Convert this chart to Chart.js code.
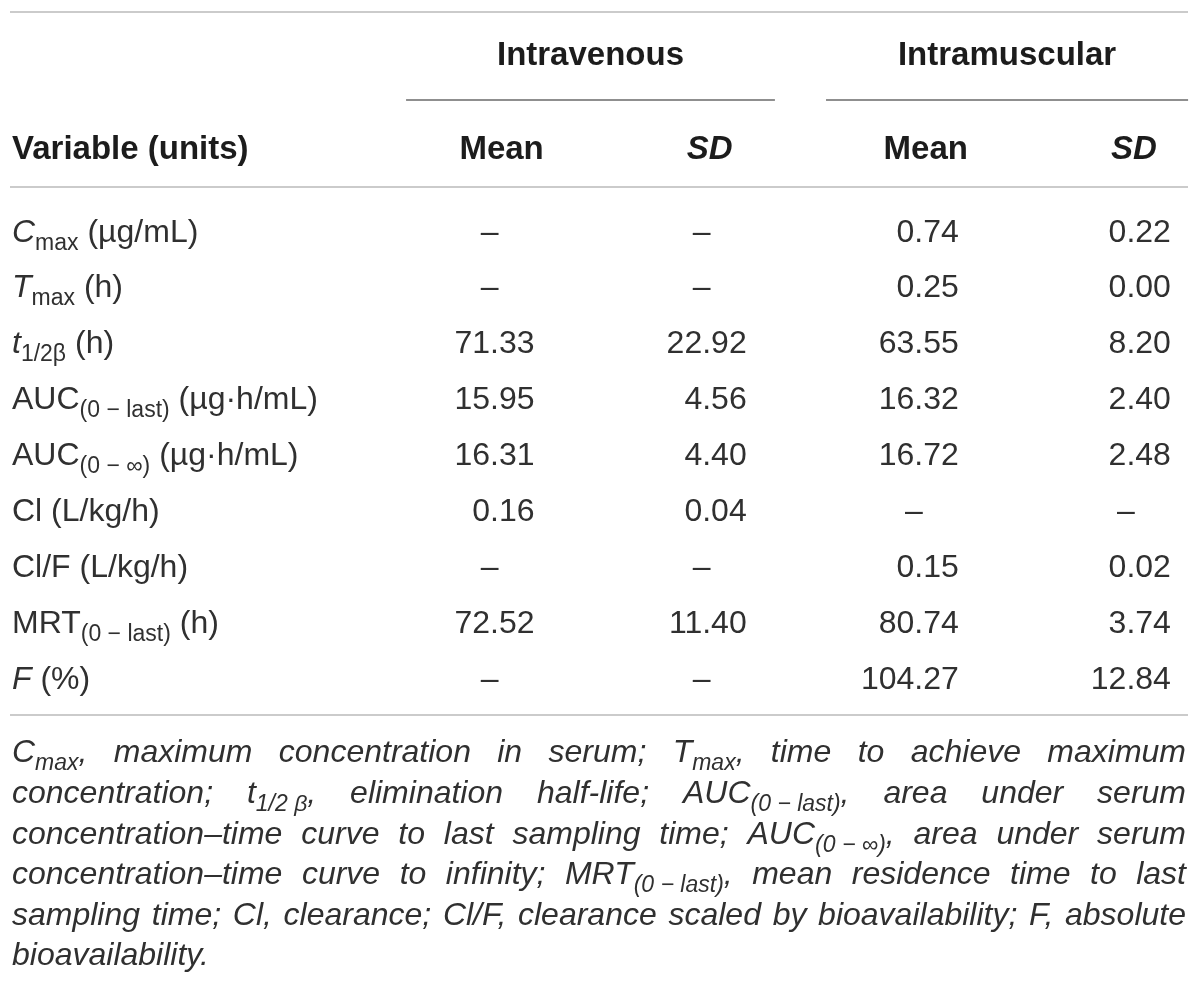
<!DOCTYPE html>
<html>
<head>
<meta charset="utf-8">
<title>Pharmacokinetic parameters</title>
<script src="https://cdn.jsdelivr.net/npm/chart.js@4.4.1/dist/chart.umd.min.js"></script>
<style>
html, body { margin: 0; padding: 0; background: #fff; }
#wrap { width: 1200px; height: 991px; position: relative; }
</style>
</head>
<body>
<div id="wrap"><canvas id="pkTable"></canvas></div>
<script>
var FONT = '"Liberation Sans", Arial, Helvetica, sans-serif';

// rows of the table ( *..* = italic, _{..} = subscript )
var variables = [
    '*C*_{max} (\u00b5g/mL)',
    '*T*_{max} (h)',
    '*t*_{1/2\u03b2} (h)',
    'AUC_{(0 \u2212 last)} (\u00b5g\u00b7h/mL)',
    'AUC_{(0 \u2212 \u221e)} (\u00b5g\u00b7h/mL)',
    'Cl (L/kg/h)',
    'Cl/F (L/kg/h)',
    'MRT_{(0 \u2212 last)} (h)',
    '*F* (%)'
];
var groups = ['Intravenous', 'Intramuscular'];
var columns = ['Mean', 'SD', 'Mean', 'SD'];

// null = not applicable, shown as a dash
var ivMean = [null, null, 71.33, 15.95, 16.31, 0.16, null, 72.52, null];
var ivSD   = [null, null, 22.92, 4.56, 4.40, 0.04, null, 11.40, null];
var imMean = [0.74, 0.25, 63.55, 16.32, 16.72, null, 0.15, 80.74, 104.27];
var imSD   = [0.22, 0.00, 8.20, 2.40, 2.48, null, 0.02, 3.74, 12.84];

var footnote = [
    'C_{max}, maximum concentration in serum; T_{max}, time to achieve maximum',
    'concentration; t_{1/2\u00a0\u03b2}, elimination half-life; AUC_{(0\u00a0\u2212\u00a0last)}, area under serum',
    'concentration\u2013time curve to last sampling time; AUC_{(0\u00a0\u2212\u00a0\u221e)}, area under serum',
    'concentration\u2013time curve to infinity; MRT_{(0\u00a0\u2212\u00a0last)}, mean residence time to last',
    'sampling time; Cl, clearance; Cl/F, clearance scaled by bioavailability; F, absolute',
    'bioavailability.'
];

var series = [ivMean, ivSD, imMean, imSD];

// little rich text helpers
function parseRich(s, italic) {
    var runs = [], it = !!italic, sub = false, buf = '';
    function push() { if (buf) { runs.push({ t: buf, i: it, sub: sub }); buf = ''; } }
    for (var k = 0; k < s.length; k++) {
        var c = s[k];
        if (c === '*') { push(); it = !it; }
        else if (c === '_' && s[k + 1] === '{') { push(); sub = true; k++; }
        else if (c === '}' && sub) { push(); sub = false; }
        else buf += c;
    }
    push();
    return runs;
}
function runFont(r, o) {
    return (r.i ? 'italic ' : '') + (o.weight || 'normal') + ' ' + (r.sub ? o.subSize : o.size) + 'px ' + FONT;
}
function runsWidth(ctx, runs, o) {
    var w = 0;
    runs.forEach(function (r) { ctx.font = runFont(r, o); w += ctx.measureText(r.t).width; });
    return w;
}
function drawRuns(ctx, runs, x, yc, o) {
    var w = runsWidth(ctx, runs, o);
    if (o.align === 'center') x -= w / 2;
    else if (o.align === 'right') x -= w;
    var base = yc + o.size * 0.36;
    ctx.textAlign = 'left';
    ctx.textBaseline = 'alphabetic';
    ctx.fillStyle = o.color;
    runs.forEach(function (r) {
        ctx.font = runFont(r, o);
        ctx.fillText(r.t, x, base + (r.sub ? o.subDy : 0));
        x += ctx.measureText(r.t).width;
    });
    return w;
}
function hline(ctx, x1, x2, y, color) {
    ctx.fillStyle = color;
    ctx.fillRect(x1, Math.round(y) - 1, x2 - x1, 2);
}

var LEFT = 11, RIGHT = 1188;
var cellFont = { size: 32, subSize: 23, subDy: 8, color: '#303030' };
var headFont = { size: 33, subSize: 23, subDy: 8, weight: 'bold', color: '#1c1c1c' };
var noteFont = { size: 32, subSize: 23, subDy: 8, color: '#303030' };

var tablePlugin = {
    id: 'tableText',
    afterDatasetsDraw: function (chart) {
        var ctx = chart.ctx, xs = chart.scales.x, ys = chart.scales.y;
        ctx.save();

        // horizontal rules
        hline(ctx, LEFT - 1, RIGHT, ys.getPixelForValue(-3.902), '#cbcbcb');
        hline(ctx, LEFT - 1, RIGHT, ys.getPixelForValue(-0.770), '#cbcbcb');
        hline(ctx, LEFT - 1, RIGHT, ys.getPixelForValue(8.680), '#cbcbcb');

        // group headers with their underlines
        var spans = [[-0.606, 1.133], [1.374, 3.081]];
        groups.forEach(function (g, k) {
            var a = xs.getPixelForValue(spans[k][0]), b = xs.getPixelForValue(spans[k][1]);
            hline(ctx, a, b, ys.getPixelForValue(-2.327), '#8f8f8f');
            drawRuns(ctx, [{ t: g }], (a + b) / 2, ys.getPixelForValue(-3.168), Object.assign({ align: 'center' }, headFont));
        });

        // column headers
        var hy = ys.getPixelForValue(-1.485);
        drawRuns(ctx, [{ t: 'Variable (units)' }], LEFT + 1, hy, headFont);
        columns.forEach(function (c, ci) {
            var px = xs.getPixelForValue(ci);
            if (c === 'SD') drawRuns(ctx, [{ t: c, i: true }], px - 14, hy, Object.assign({ align: 'right' }, headFont));
            else drawRuns(ctx, [{ t: c }], px - 33, hy, Object.assign({ align: 'center' }, headFont));
        });

        // row labels
        variables.forEach(function (v, ri) {
            drawRuns(ctx, parseRich(v), LEFT + 1, ys.getPixelForValue(ri), cellFont);
        });

        // cell values, placed at each dataset point
        chart.data.datasets.forEach(function (ds, di) {
            var meta = chart.getDatasetMeta(di);
            meta.data.forEach(function (pt, j) {
                var v = ds.data[j].v;
                if (v === null) drawRuns(ctx, [{ t: '\u2013' }], pt.x - 45, pt.y, Object.assign({ align: 'center' }, cellFont));
                else drawRuns(ctx, [{ t: v.toFixed(2) }], pt.x, pt.y, Object.assign({ align: 'right' }, cellFont));
            });
        });

        // justified footnote
        var lineStep = 0.7266, firstLine = 9.324;
        footnote.forEach(function (line, li) {
            var words = line.split(' ').map(function (w) { return parseRich(w, true); });
            var widths = words.map(function (w) { return runsWidth(ctx, w, noteFont); });
            var total = widths.reduce(function (s, w) { return s + w; }, 0);
            ctx.font = 'italic ' + noteFont.size + 'px ' + FONT;
            var gap = (li === footnote.length - 1 || words.length < 2)
                ? ctx.measureText(' ').width
                : (RIGHT - 2 - (LEFT + 1) - total) / (words.length - 1);
            var x = LEFT + 1, yc = ys.getPixelForValue(firstLine + li * lineStep);
            words.forEach(function (w, k) {
                drawRuns(ctx, w, x, yc, noteFont);
                x += widths[k] + gap;
            });
        });

        ctx.restore();
    }
};

var pkChart = new Chart(document.getElementById('pkTable'), {
    type: 'scatter',
    data: {
        datasets: series.map(function (vals, ci) {
            return {
                label: columns[ci],
                data: vals.map(function (v, ri) { return { x: ci, y: ri, v: v }; }),
                pointRadius: 0,
                pointHoverRadius: 0
            };
        })
    },
    options: {
        responsive: true,
        maintainAspectRatio: false,
        animation: false,
        events: [],
        layout: { padding: 0 },
        plugins: { legend: { display: false }, tooltip: { enabled: false } },
        scales: {
            // column anchors (right edge of numbers), one unit per column
            x: { type: 'linear', display: false, min: -2.5205, max: 3.1372 },
            // one unit per table row
            y: { type: 'linear', display: false, reverse: true, min: -4.1163, max: 13.6197 }
        }
    },
    plugins: [tablePlugin]
});
</script>
</body>
</html>
